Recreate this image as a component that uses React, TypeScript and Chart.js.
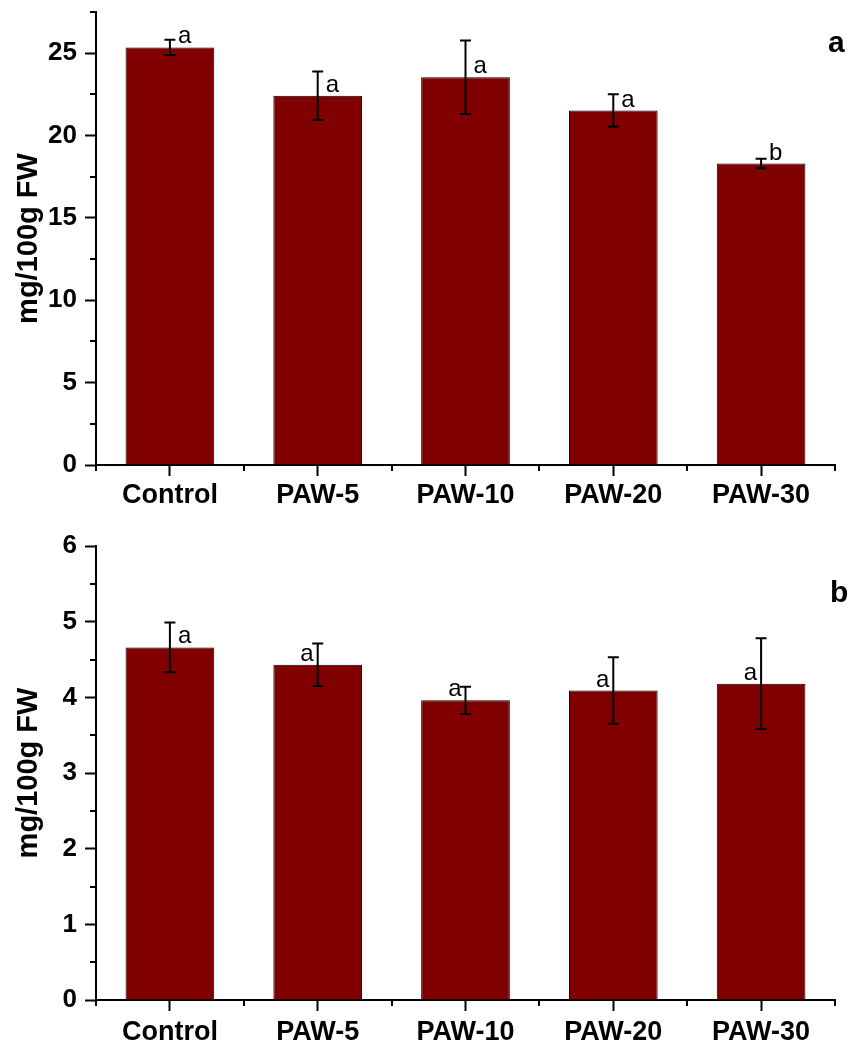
import React, { useEffect, useRef } from 'react';
import { Chart, registerables } from 'chart.js';

Chart.register(...registerables);

const categories = ['Control', 'PAW-5', 'PAW-10', 'PAW-20', 'PAW-30'];

const valuesA = [25.35, 22.42, 23.54, 21.52, 18.3];
const errorsA = [0.46, 1.47, 2.23, 0.98, 0.29];
const lettersA = ['a', 'a', 'a', 'a', 'b'];
const letterSideA = ['right', 'right', 'right', 'right', 'right'];

const valuesB = [4.66, 4.43, 3.96, 4.09, 4.18];
const errorsB = [0.33, 0.28, 0.18, 0.44, 0.6];
const lettersB = ['a', 'a', 'a', 'a', 'a'];
const letterSideB = ['right', 'left', 'left', 'left', 'left'];

const yTitle = 'mg/100g FW';
const FONT = '"Liberation Sans", Arial, Helvetica, sans-serif';

const annotPlugin = {
  id: 'annot',
  afterDraw(chart: any, _args: any, opts: any) {
    const ctx = chart.ctx;
    const xs = chart.scales.x;
    const ys = chart.scales.y;
    const meta = chart.getDatasetMeta(0);
    ctx.save();
    ctx.strokeStyle = '#000';
    ctx.fillStyle = '#000';
    // minor ticks on y
    ctx.lineWidth = 2;
    for (let v = opts.minorStart; v <= ys.max + 1e-9; v += opts.step) {
      const py = Math.round(ys.getPixelForValue(v));
      ctx.beginPath();
      ctx.moveTo(xs.left - 6, py);
      ctx.lineTo(xs.left, py);
      ctx.stroke();
    }
    // minor ticks on x (category boundaries)
    const n = categories.length;
    const w = (xs.right - xs.left) / n;
    for (let i = 0; i <= n; i++) {
      const px = Math.round(xs.left + i * w);
      ctx.beginPath();
      ctx.moveTo(px, ys.bottom);
      ctx.lineTo(px, ys.bottom + 6);
      ctx.stroke();
    }
    // error bars and letters
    meta.data.forEach((bar: any, i: number) => {
      const v = opts.values[i];
      const e = opts.errors[i];
      const cx = bar.x;
      const yt = ys.getPixelForValue(v + e);
      const yb = ys.getPixelForValue(v - e);
      ctx.lineWidth = 2;
      ctx.beginPath();
      ctx.moveTo(cx, yt);
      ctx.lineTo(cx, yb);
      ctx.moveTo(cx - 5.5, yt);
      ctx.lineTo(cx + 5.5, yt);
      ctx.moveTo(cx - 5.5, yb);
      ctx.lineTo(cx + 5.5, yb);
      ctx.stroke();
      ctx.font = '24px ' + FONT;
      ctx.textBaseline = 'alphabetic';
      const side = opts.sides[i];
      ctx.textAlign = side === 'right' ? 'left' : 'right';
      const lx = side === 'right' ? cx + 8 : cx - 4;
      ctx.fillText(opts.letters[i], lx, bar.y - 4);
    });
    // panel label
    ctx.font = 'bold 30px ' + FONT;
    ctx.textAlign = 'left';
    ctx.textBaseline = 'alphabetic';
    ctx.fillText(opts.panel, opts.panelX, opts.panelY);
    ctx.restore();
  },
};

function makeConfig(
  values: number[],
  errors: number[],
  letters: string[],
  sides: string[],
  panel: string,
  yMax: number,
  step: number,
  padTop: number,
  xHeight: number,
  xPad: number,
  panelX: number,
  panelY: number
): any {
  return {
    type: 'bar',
    data: {
      labels: categories,
      datasets: [
        {
          data: values,
          backgroundColor: '#800000',
          borderColor: '#000',
          borderWidth: 1,
          barPercentage: 0.6,
          categoryPercentage: 1,
        },
      ],
    },
    plugins: [annotPlugin],
    options: {
      responsive: false,
      animation: false,
      devicePixelRatio: 1,
      layout: { padding: { left: 0, top: padTop, right: 22, bottom: 0 } },
      plugins: {
        legend: { display: false },
        tooltip: { enabled: false },
        annot: {
          values,
          errors,
          letters,
          sides,
          panel,
          step,
          minorStart: step / 2,
          panelX,
          panelY,
        },
      },
      scales: {
        x: {
          offset: true,
          grid: {
            display: true,
            drawOnChartArea: false,
            drawTicks: true,
            tickLength: 11,
            offset: false,
            tickColor: '#000',
            tickWidth: 2,
            color: '#000',
          },
          border: { display: true, color: '#000', width: 2 },
          ticks: {
            color: '#000',
            font: { family: FONT, size: 27, weight: 'bold' },
            padding: xPad,
            maxRotation: 0,
            minRotation: 0,
            autoSkip: false,
          },
          afterFit: (s: any) => {
            s.height = xHeight;
            s.paddingLeft = 0;
            s.paddingRight = 0;
          },
        },
        y: {
          min: 0,
          max: yMax,
          grid: {
            display: true,
            drawOnChartArea: false,
            drawTicks: true,
            tickLength: 11,
            tickColor: '#000',
            tickWidth: 2,
            color: '#000',
          },
          border: { display: true, color: '#000', width: 2 },
          ticks: {
            stepSize: step,
            color: '#000',
            font: { family: FONT, size: 26, weight: 'bold' },
            padding: 8,
          },
          afterBuildTicks: (s: any) => {
            s.ticks = s.ticks.filter(
              (t: any) => Math.abs(t.value / step - Math.round(t.value / step)) < 1e-6
            );
          },
          title: {
            display: true,
            text: yTitle,
            color: '#000',
            font: { family: FONT, size: 29, weight: 'bold' },
            padding: { top: 12, bottom: 0 },
          },
          afterFit: (s: any) => {
            s.width = 96;
            s.paddingTop = 0;
            s.paddingBottom = 0;
          },
        },
      },
    },
  };
}

function Panel({ config }: { config: any }) {
  const ref = useRef<HTMLCanvasElement | null>(null);
  useEffect(() => {
    if (!ref.current) return;
    const chart = new Chart(ref.current, config);
    return () => chart.destroy();
  }, [config]);
  return <canvas ref={ref} width={857} height={520} style={{ display: 'block', width: 857, height: 520 }} />;
}

const configA = makeConfig(valuesA, errorsA, lettersA, letterSideA, 'a', 27.5, 5, 12, 55, 3, 828, 52);
const configB = makeConfig(valuesB, errorsB, lettersB, letterSideB, 'b', 6, 1, 26, 40, 5, 830, 82);

export default function App() {
  return (
    <div style={{ position: 'absolute', left: 0, top: 0, width: 857, height: 1040, background: '#fff', overflow: 'hidden' }}>
      <Panel config={configA} />
      <Panel config={configB} />
    </div>
  );
}
